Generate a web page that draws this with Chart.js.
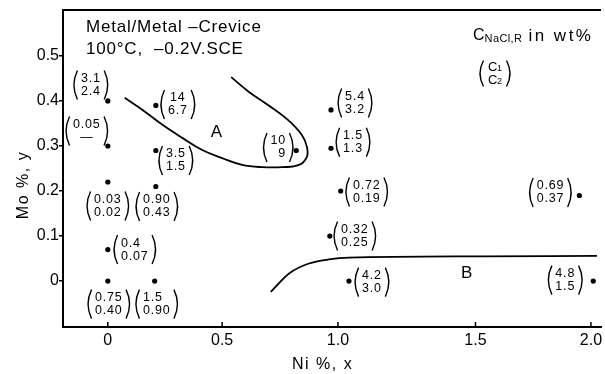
<!DOCTYPE html>
<html>
<head>
<meta charset="utf-8">
<script src="https://cdn.jsdelivr.net/npm/chart.js@4.4.1/dist/chart.umd.min.js"></script>
<style>
  html, body { margin: 0; padding: 0; background: #fff; }
  #wrap { width: 605px; height: 374px; }
</style>
</head>
<body>
<div id="wrap"><canvas id="crevice"></canvas></div>
<script>
// Ni and Mo content of each alloy (wt%)
const niX = [0, 0, 0.21, 0.21, 0.82, 0, 0.21, 0, 0, 0.205, 0.97, 0.97, 1.01, 1.95, 0.965, 1.04, 2.01];
const moY = [0.40, 0.30, 0.39, 0.29, 0.29, 0.22, 0.21, 0.07, 0, 0, 0.38, 0.295, 0.20, 0.19, 0.10, 0, 0];

// critical NaCl concentrations C1 / C2 (wt%) next to each alloy
const c1 = ['3.1', '0.05', '14', '3.5', '10', '0.03', '0.90', '0.4', '0.75', '1.5', '5.4', '1.5', '0.72', '0.69', '0.32', '4.2', '4.8'];
const c2 = ['2.4', '\u2014', '6.7', '1.5', '9', '0.02', '0.43', '0.07', '0.40', '0.90', '3.2', '1.3', '0.19', '0.37', '0.25', '3.0', '1.5'];

// boundary of region A
const curveAX = [0.074, 0.152, 0.239, 0.326, 0.413, 0.50, 0.586, 0.672, 0.759, 0.832, 0.866, 0.866, 0.845, 0.784, 0.698, 0.616, 0.539];
const curveAY = [0.407, 0.380, 0.347, 0.318, 0.291, 0.273, 0.258, 0.253, 0.253, 0.258, 0.276, 0.298, 0.324, 0.358, 0.391, 0.420, 0.453];

// boundary of region B
const curveBX = [0.710, 0.789, 0.875, 0.961, 1.04, 1.527, 2.026];
const curveBY = [-0.024, 0.017, 0.039, 0.048, 0.052, 0.055, 0.056];

const xTicks = [0, 0.5, 1.0, 1.5, 2.0];
const xTickLabels = ['0', '0.5', '1.0', '1.5', '2.0'];
const yTicks = [0, 0.1, 0.2, 0.3, 0.4, 0.5];
const yTickLabels = ['0', '0.1', '0.2', '0.3', '0.4', '0.5'];

// the Ni axis is not evenly divided: drawn spacing of each tick
const xTickSpan = [0, 0.5, 1.0065, 1.608, 2.113];

// where each C1/C2 bracket sits relative to its point (px), and text alignment
const labelShift = [
  [-17, -16], [-21, -15], [22, -1], [20, 10], [-18, -3], [0, 24], [1, 20], [27, 0], [1, 23],
  [2, 23], [24, -7], [22, -6], [26, 1], [-29, -3], [25, 0], [23, 1], [-28, -1]
];
const labelAlign = ['center', 'center', 'center', 'center', 'right', 'center', 'center', 'left', 'center',
  'left', 'center', 'center', 'center', 'center', 'center', 'center', 'center'];

const FONT = '"Liberation Sans", Arial, sans-serif';

function piecewise(v, from, to) {
  let i = 0;
  while (i < from.length - 2 && v > from[i + 1]) i++;
  const t = (v - from[i]) / (from[i + 1] - from[i]);
  return to[i] + t * (to[i + 1] - to[i]);
}

class UnevenLinearScale extends Chart.LinearScale {
  getPixelForValue(value) {
    if (value === null || value === undefined) return NaN;
    return super.getPixelForValue(piecewise(value, xTicks, xTickSpan));
  }
  getValueForPixel(pixel) {
    return piecewise(super.getValueForPixel(pixel), xTickSpan, xTicks);
  }
}
UnevenLinearScale.id = 'unevenLinear';
UnevenLinearScale.defaults = Chart.LinearScale.defaults;
Chart.register(UnevenLinearScale);

function drawParens(ctx, cx, cy, halfW, halfH) {
  const bulge = 3.5;
  ctx.beginPath();
  ctx.moveTo(cx - halfW + bulge, cy - halfH);
  ctx.quadraticCurveTo(cx - halfW - bulge, cy, cx - halfW + bulge, cy + halfH);
  ctx.moveTo(cx + halfW - bulge, cy - halfH);
  ctx.quadraticCurveTo(cx + halfW + bulge, cy, cx + halfW - bulge, cy + halfH);
  ctx.stroke();
}

function bracketLabel(ctx, cx, cy, top, bottom, align) {
  ctx.font = '12.5px ' + FONT;
  ctx.letterSpacing = '0.8px';
  const w = Math.max(ctx.measureText(top).width, ctx.measureText(bottom).width);
  ctx.textBaseline = 'middle';
  ctx.textAlign = align;
  const tx = align === 'left' ? cx - w / 2 : align === 'right' ? cx + w / 2 : cx;
  ctx.fillText(top, tx, cy - 6.5);
  ctx.fillText(bottom, tx, cy + 6.5);
  ctx.lineWidth = 1.4;
  drawParens(ctx, cx, cy, w / 2 + 7, 14.5);
}

const whiteBg = {
  id: 'whiteBg',
  beforeDraw(chart) {
    const ctx = chart.ctx;
    ctx.save();
    ctx.fillStyle = '#fff';
    ctx.fillRect(0, 0, chart.width, chart.height);
    ctx.restore();
  }
};

const annotations = {
  id: 'annotations',
  afterDraw(chart) {
    const {ctx, chartArea: area, scales: {x, y}} = chart;
    ctx.save();
    ctx.strokeStyle = '#000';
    ctx.fillStyle = '#000';

    // top frame line and inward ticks on the Ni axis
    ctx.lineWidth = 2;
    ctx.beginPath();
    ctx.moveTo(area.left - 1, area.top);
    ctx.lineTo(area.right, area.top);
    ctx.stroke();
    ctx.lineWidth = 1.5;
    xTicks.forEach(v => {
      const px = x.getPixelForValue(v);
      ctx.beginPath();
      ctx.moveTo(px, area.bottom);
      ctx.lineTo(px, area.bottom - 5);
      ctx.stroke();
    });

    // bracketed concentrations
    niX.forEach((nx, i) => {
      const px = x.getPixelForValue(nx) + labelShift[i][0];
      const py = y.getPixelForValue(moY[i]) + labelShift[i][1];
      bracketLabel(ctx, px, py, c1[i], c2[i], labelAlign[i]);
    });

    // region letters
    ctx.font = '17px ' + FONT;
    ctx.letterSpacing = '0px';
    ctx.textAlign = 'center';
    ctx.textBaseline = 'middle';
    ctx.fillText('A', x.getPixelForValue(0.475), y.getPixelForValue(0.331));
    ctx.fillText('B', x.getPixelForValue(1.468), y.getPixelForValue(0.018));

    // test conditions
    ctx.textAlign = 'left';
    ctx.letterSpacing = '0.8px';
    ctx.fillText('Metal/Metal \u2013Crevice', area.left + 23, area.top + 17);
    ctx.fillText('100\u00b0C,  \u20130.2V.SCE', area.left + 23, area.top + 39);

    // legend for the brackets
    let lx = 473;
    const ly = 36;
    ctx.font = '16px ' + FONT;
    ctx.letterSpacing = '0px';
    ctx.fillText('C', lx, ly);
    lx += ctx.measureText('C').width;
    ctx.font = '11px ' + FONT;
    ctx.letterSpacing = '0.4px';
    ctx.fillText('NaCl,R', lx, ly + 3);
    lx += ctx.measureText('NaCl,R').width + 6;
    ctx.font = '17px ' + FONT;
    ctx.letterSpacing = '2.5px';
    ctx.fillText('in wt%', lx, ly);

    ctx.letterSpacing = '0px';
    const lcx = 495, lcy = 73.5;
    [['1', lcy - 6.5], ['2', lcy + 6.5]].forEach(([sub, yy]) => {
      ctx.font = '13px ' + FONT;
      ctx.textAlign = 'left';
      ctx.fillText('C', lcx - 7, yy);
      ctx.font = '9px ' + FONT;
      ctx.fillText(sub, lcx + 2, yy + 2);
    });
    ctx.lineWidth = 1.4;
    drawParens(ctx, lcx, lcy, 15, 13);

    // axis titles
    ctx.font = '16px ' + FONT;
    ctx.letterSpacing = '1.5px';
    ctx.textAlign = 'left';
    ctx.fillText('Ni %, x', 292, 365);
    ctx.save();
    ctx.translate(24, 185);
    ctx.rotate(-Math.PI / 2);
    ctx.textAlign = 'center';
    ctx.fillText('Mo %, y', 0, 0);
    ctx.restore();

    ctx.restore();
  }
};

const data = {
  datasets: [
    {
      label: 'alloys',
      data: niX.map((v, i) => ({x: v, y: moY[i]})),
      pointRadius: 2.6,
      pointBackgroundColor: '#000',
      pointBorderWidth: 0,
      showLine: false
    },
    {
      label: 'A',
      data: curveAX.map((v, i) => ({x: v, y: curveAY[i]})),
      showLine: true,
      tension: 0.4,
      pointRadius: 0,
      borderColor: '#000',
      borderWidth: 1.8,
      fill: false
    },
    {
      label: 'B',
      data: curveBX.map((v, i) => ({x: v, y: curveBY[i]})),
      showLine: true,
      cubicInterpolationMode: 'monotone',
      pointRadius: 0,
      borderColor: '#000',
      borderWidth: 1.8,
      fill: false
    }
  ]
};

const config = {
  type: 'scatter',
  data: data,
  options: {
    responsive: true,
    maintainAspectRatio: false,
    animation: false,
    events: [],
    layout: { padding: { top: 10, right: 2, left: 0, bottom: 0 } },
    plugins: { legend: { display: false }, tooltip: { enabled: false } },
    scales: {
      x: {
        type: 'unevenLinear',
        min: -0.196,
        max: 2.157,
        afterBuildTicks: scale => { scale.ticks = xTicks.map(v => ({value: v})); },
        afterFit: scale => { scale.height = 47; scale.paddingLeft = 0; scale.paddingRight = 0; },
        ticks: {
          color: '#000',
          font: { family: FONT, size: 16 },
          padding: 4,
          maxRotation: 0,
          autoSkip: false,
          callback: (v, i) => xTickLabels[i]
        },
        grid: { display: true, drawOnChartArea: false, drawTicks: false },
        border: { display: true, color: '#000', width: 2 }
      },
      y: {
        type: 'linear',
        min: -0.102,
        max: 0.602,
        afterBuildTicks: scale => { scale.ticks = yTicks.map(v => ({value: v})); },
        afterFit: scale => { scale.width = 63; },
        ticks: {
          color: '#000',
          font: { family: FONT, size: 16 },
          padding: 0,
          autoSkip: false,
          callback: (v, i) => yTickLabels[i]
        },
        grid: { display: true, drawOnChartArea: false, drawTicks: true, tickLength: 4, color: '#000', lineWidth: 1.5 },
        border: { display: true, color: '#000', width: 2 }
      }
    }
  },
  plugins: [whiteBg, annotations]
};

const crevChart = new Chart(document.getElementById('crevice'), config);
</script>
</body>
</html>
